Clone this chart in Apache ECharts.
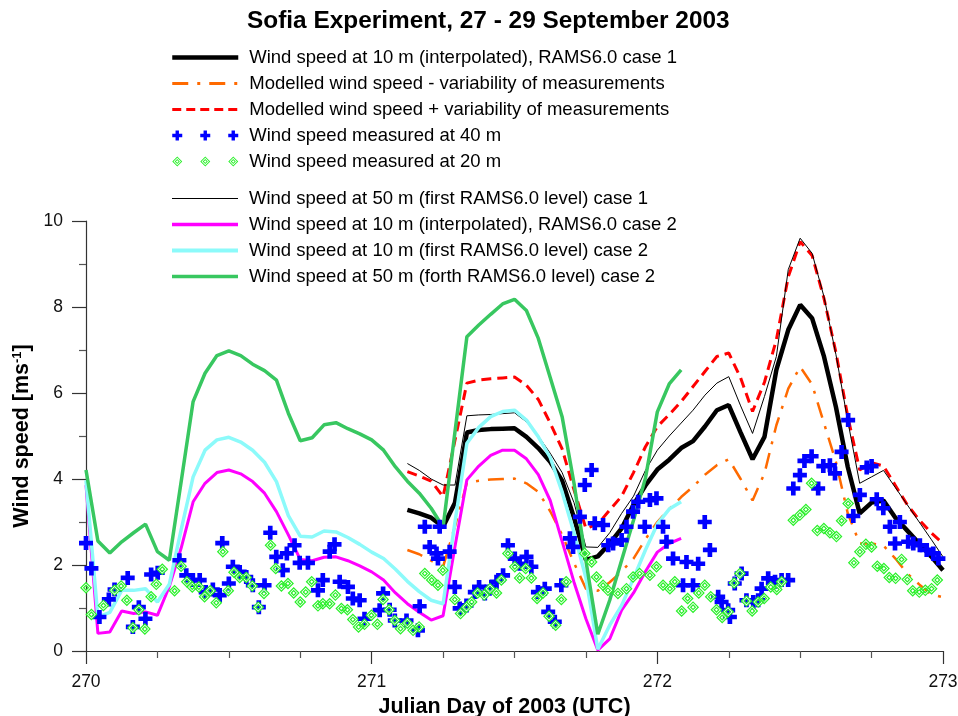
<!DOCTYPE html>
<html>
<head>
<meta charset="utf-8">
<title>Sofia Experiment, 27 - 29 September 2003</title>
<script src="https://cdn.jsdelivr.net/npm/echarts@6/dist/echarts.min.js"></script>
<style>
  html, body { margin: 0; padding: 0; background: #fff; }
  #chart { width: 958px; height: 716px; }
</style>
</head>
<body>
<div id="chart"></div>
<script>
// hourly model output, case 2 starts at day 270.0, case 1 at 271.125 (03 UTC)
const case2Start = 270
const case1Start = 271.125

const case2Wind50 = [4.21, 2.56, 2.28, 2.54, 2.75, 2.95, 2.31, 2.11, 3.95, 5.80, 6.46, 6.87, 6.98, 6.87, 6.67, 6.52, 6.30,
  5.53, 4.89, 4.96, 5.26, 5.31, 5.17, 5.05, 4.91, 4.67, 4.28, 3.95, 3.67, 3.32, 2.88, 5.10, 7.31, 7.58, 7.83, 8.07,
  8.18, 7.92, 7.27, 6.36, 5.45, 3.90, 2.10, 0.39, 1.18, 2.11, 3.04, 4.02, 5.56, 6.21, 6.54]
const case2Wind10First = [3.97, 0.79, 0.90, 1.41, 1.41, 1.45, 1.14, 1.55, 2.83, 4.05, 4.67, 4.91, 4.97, 4.86, 4.67, 4.39,
  3.94, 3.15, 2.67, 2.65, 2.79, 2.77, 2.64, 2.48, 2.30, 2.15, 1.90, 1.62, 1.38, 1.18, 1.10, 3.00, 4.83, 5.20, 5.45,
  5.57, 5.60, 5.37, 4.98, 4.50, 3.70, 2.75, 1.70, 0.04, 0.60, 1.06, 1.69, 2.35, 2.95, 3.30, 3.47]
const case2Wind10 = [3.86, 0.41, 0.44, 0.93, 0.87, 0.91, 0.83, 1.50, 2.40, 3.47, 3.90, 4.15, 4.21, 4.12, 3.94, 3.67, 3.24,
  2.70, 2.13, 2.10, 2.18, 2.19, 2.10, 1.98, 1.84, 1.65, 1.35, 1.10, 0.90, 0.72, 0.82, 2.43, 3.98, 4.30, 4.55, 4.67,
  4.67, 4.47, 4.10, 3.50, 2.55, 1.60, 0.75, 0.02, 0.28, 0.95, 1.35, 1.85, 2.30, 2.50, 2.62]

const case1Wind10 = [3.28, 3.20, 3.10, 2.89, 3.45, 5.08, 5.14, 5.16, 5.17, 5.18, 4.98, 4.72, 4.40, 3.96, 3.10, 2.12,
  2.20, 2.50, 2.85, 3.40, 3.85, 4.22, 4.45, 4.72, 4.88, 5.22, 5.60, 5.72, 5.08, 4.46, 4.98, 6.54, 7.47, 8.05, 7.74,
  6.85, 5.68, 4.28, 3.20, 3.45, 3.50, 3.10, 2.80, 2.50, 2.20, 1.88]
const case1Wind50 = [4.36, 4.20, 4.00, 3.86, 3.86, 5.47, 5.49, 5.50, 5.52, 5.54, 5.33, 5.00, 4.60, 4.15, 3.45, 2.42,
  2.41, 2.75, 3.20, 3.60, 4.20, 4.67, 5.00, 5.30, 5.60, 5.95, 6.23, 6.38, 5.70, 5.06, 5.92, 6.85, 8.87, 9.60, 9.25,
  8.24, 6.90, 5.35, 3.90, 4.05, 4.20, 3.80, 3.40, 3.00, 2.60, 2.19]
const case1Plus = [4.17, 4.07, 3.95, 3.59, 4.90, 6.23, 6.30, 6.33, 6.35, 6.37, 6.18, 5.85, 5.30, 4.70, 3.75, 2.85,
  2.95, 3.28, 3.60, 4.15, 4.75, 5.22, 5.50, 5.80, 6.15, 6.50, 6.85, 6.93, 6.35, 5.57, 6.25, 7.24, 8.70, 9.52, 9.20,
  8.20, 6.95, 5.45, 4.21, 4.38, 4.30, 3.85, 3.40, 3.05, 2.75, 2.50]
const case1Minus = [2.35, 2.25, 2.10, 1.96, 2.90, 3.91, 3.96, 3.99, 4.00, 4.01, 3.90, 3.70, 3.25, 2.70, 2.05, 1.45,
  1.40, 1.60, 1.85, 2.15, 2.60, 3.00, 3.30, 3.58, 3.82, 4.10, 4.32, 4.46, 4.00, 3.50, 4.13, 5.25, 6.10, 6.61, 6.20,
  5.30, 4.40, 3.20, 2.50, 2.50, 2.45, 2.15, 1.80, 1.55, 1.32, 1.25]

// measurements [julian day, m/s]
const measured40 = [[270.000, 2.51], [270.019, 1.92], [270.047, 0.79], [270.080, 1.20], [270.100, 1.43], [270.146, 1.70],
  [270.164, 0.56], [270.185, 1.02], [270.208, 0.75], [270.228, 1.78], [270.251, 1.82], [270.327, 2.11], [270.351, 1.76],
  [270.374, 1.65], [270.398, 1.65], [270.419, 1.37], [270.444, 1.43], [270.468, 1.30], [270.477, 2.51], [270.500, 1.57],
  [270.514, 1.96], [270.538, 1.84], [270.561, 1.72], [270.584, 1.53], [270.605, 1.02], [270.625, 1.53], [270.645, 2.75],
  [270.666, 2.19], [270.689, 1.88], [270.703, 2.27], [270.730, 2.46], [270.748, 2.05], [270.777, 2.05], [270.812, 1.41],
  [270.829, 1.65], [270.853, 2.31], [270.870, 2.48], [270.888, 1.61], [270.917, 1.49], [270.934, 1.22], [270.958, 1.18],
  [270.975, 0.75], [271.028, 0.95], [271.040, 1.34], [271.063, 0.96], [271.081, 0.71], [271.122, 0.71], [271.162, 0.48],
  [271.168, 1.04], [271.186, 2.89], [271.203, 2.42], [271.227, 2.27], [271.232, 2.15], [271.238, 2.89], [271.273, 2.31],
  [271.291, 1.49], [271.308, 0.99], [271.332, 1.06], [271.361, 1.37], [271.376, 1.49], [271.396, 1.34], [271.419, 1.49],
  [271.437, 1.61], [271.460, 1.76], [271.477, 2.46], [271.501, 2.15], [271.518, 2.03], [271.542, 2.19], [271.559, 1.96],
  [271.582, 1.37], [271.606, 1.45], [271.618, 0.91], [271.641, 0.68], [271.664, 1.53], [271.694, 2.62], [271.705, 2.42],
  [271.729, 3.12], [271.746, 3.86], [271.770, 4.21], [271.781, 2.97], [271.810, 2.93], [271.828, 2.46], [271.845, 2.50],
  [271.875, 2.58], [271.892, 2.89], [271.915, 3.24], [271.933, 3.47], [271.956, 2.89], [271.974, 3.51], [271.997, 3.55],
  [272.020, 2.89], [272.032, 2.54], [272.055, 2.15], [272.090, 1.53], [272.102, 2.07], [272.125, 1.53], [272.143, 2.03],
  [272.166, 3.00], [272.184, 2.35], [272.213, 1.26], [272.225, 1.14], [272.248, 0.95], [272.254, 0.79], [272.271, 1.57],
  [272.295, 1.80], [272.312, 1.18], [272.336, 1.14], [272.353, 1.18], [272.365, 1.45], [272.388, 1.69], [272.412, 1.61],
  [272.435, 1.65], [272.458, 1.65], [272.476, 3.78], [272.499, 4.09], [272.515, 4.42], [272.540, 4.53], [272.563, 3.78],
  [272.581, 4.30], [272.604, 4.32], [272.622, 4.13], [272.645, 4.63], [272.668, 5.37], [272.686, 3.14], [272.709, 3.63],
  [272.733, 4.27], [272.750, 4.30], [272.768, 3.53], [272.791, 3.32], [272.814, 2.89], [272.832, 2.50], [272.849, 3.00],
  [272.878, 2.54], [272.896, 2.50], [272.919, 2.46], [272.943, 2.35], [272.966, 2.27], [272.984, 2.15], [273.001, 2.00]]

const measured20 = [[270.000, 1.47], [270.019, 0.85], [270.061, 1.06], [270.100, 1.41], [270.123, 1.51], [270.143, 1.18],
  [270.164, 0.54], [270.185, 0.96], [270.206, 0.51], [270.228, 1.26], [270.246, 1.55], [270.267, 1.90], [270.310, 1.40],
  [270.333, 1.97], [270.353, 1.61], [270.372, 1.49], [270.395, 1.49], [270.415, 1.26], [270.435, 1.40], [270.456, 1.12],
  [270.479, 2.31], [270.498, 1.40], [270.518, 1.83], [270.538, 1.71], [270.561, 1.71], [270.582, 1.51], [270.603, 1.02],
  [270.623, 1.34], [270.646, 2.46], [270.664, 1.92], [270.684, 1.51], [270.707, 1.57], [270.727, 1.35], [270.750, 1.14],
  [270.769, 1.37], [270.790, 1.61], [270.812, 1.05], [270.829, 1.10], [270.853, 1.10], [270.873, 1.30], [270.894, 0.99],
  [270.915, 0.96], [270.934, 0.73], [270.954, 0.56], [270.975, 0.62], [270.999, 0.83], [271.020, 0.62], [271.040, 1.20],
  [271.061, 0.96], [271.081, 0.71], [271.101, 0.52], [271.125, 0.65], [271.145, 0.48], [271.166, 0.56], [271.186, 1.80],
  [271.210, 1.65], [271.232, 1.53], [271.249, 1.88], [271.291, 1.20], [271.311, 0.87], [271.332, 1.02], [271.350, 1.14],
  [271.371, 1.35], [271.394, 1.30], [271.414, 1.45], [271.437, 1.35], [271.454, 1.65], [271.477, 2.27], [271.501, 1.96],
  [271.518, 1.70], [271.539, 1.92], [271.559, 1.70], [271.579, 1.22], [271.600, 1.35], [271.621, 0.81], [271.644, 0.60],
  [271.664, 1.20], [271.681, 1.61], [271.746, 2.27], [271.770, 2.07], [271.787, 1.72], [271.810, 1.53], [271.827, 1.41],
  [271.862, 1.34], [271.892, 1.45], [271.915, 1.72], [271.938, 1.80], [271.974, 1.76], [271.997, 1.96], [272.020, 1.53],
  [272.044, 1.45], [272.061, 1.61], [272.085, 0.93], [272.106, 1.22], [272.125, 1.02], [272.145, 1.35], [272.166, 1.53],
  [272.187, 1.26], [272.207, 0.96], [272.227, 0.78], [272.248, 0.91], [272.269, 1.58], [272.289, 1.80], [272.312, 1.16],
  [272.332, 0.93], [272.353, 1.14], [272.374, 1.22], [272.397, 1.49], [272.418, 1.43], [272.435, 1.61], [272.476, 3.04],
  [272.499, 3.16], [272.520, 3.29], [272.540, 3.90], [272.560, 2.80], [272.583, 2.85], [272.604, 2.75], [272.627, 2.66],
  [272.645, 3.03], [272.668, 3.43], [272.688, 2.05], [272.709, 2.31], [272.730, 2.48], [272.750, 2.42], [272.770, 1.97],
  [272.793, 1.92], [272.812, 1.71], [272.834, 1.69], [272.855, 2.13], [272.875, 1.66], [272.894, 1.40], [272.917, 1.37],
  [272.938, 1.41], [272.960, 1.45], [272.980, 1.65], [273.001, 1.22]]

const xRange = [270, 273]
const yRange = [0, 10]

const names = {
  c1w10: 'Wind speed at 10 m (interpolated), RAMS6.0 case 1',
  minus: 'Modelled wind speed - variability of measurements',
  plus: 'Modelled wind speed + variability of measurements',
  m40: 'Wind speed measured at 40 m',
  m20: 'Wind speed measured at 20 m',
  c1w50: 'Wind speed at 50 m (first RAMS6.0 level) case 1',
  c2w10: 'Wind speed at 10 m (interpolated), RAMS6.0 case 2',
  c2w10f: 'Wind speed at 10 m (first RAMS6.0 level) case 2',
  c2w50: 'Wind speed at 50 m (forth RAMS6.0 level) case 2'
}

const FONT = '"Liberation Sans", Arial, sans-serif'
const dashPlus = [10, 6]
const dashMinus = [16, 9, 3, 9]

const crossSymbol = 'path://M5,0H10V5H15V10H10V15H5V10H0V5H5Z'
const ringSymbol = 'path://M6,0L12,6L6,12L0,6ZM6,1.7L1.7,6L6,10.3L10.3,6ZM6,2.8L9.2,6L6,9.2L2.8,6ZM6,4.5L4.5,6L6,7.5L7.5,6Z'
const ringFill = 'path://M6,1L11,6L6,11L1,6ZM6,3L3,6L6,9L9,6Z'

// legend icons: three markers side by side
function crossAt(cx) {
  return `M${cx - 1.7},0H${cx + 1.7}V3.3H${cx + 5}V6.7H${cx + 1.7}V10H${cx - 1.7}V6.7H${cx - 5}V3.3H${cx - 1.7}Z`
}
function diamondAt(cx) {
  return `M${cx},0L${cx + 5},5L${cx},10L${cx - 5},5Z` +
    `M${cx},1.3L${cx - 3.7},5L${cx},8.7L${cx + 3.7},5Z` +
    `M${cx},2.4L${cx + 2.6},5L${cx},7.6L${cx - 2.6},5Z` +
    `M${cx},3.7L${cx - 1.3},5L${cx},6.3L${cx + 1.3},5Z`
}
const crossIcon = 'path://' + [5, 33, 61].map(crossAt).join('')
const diamondIcon = 'path://' + [5, 33, 61].map(diamondAt).join('')

function hourly(start, values) {
  return values.map((v, i) => [start + i / 24, v])
}

function line(name, data, color, width, type) {
  return {
    name, type: 'line', data,
    symbol: 'none',
    lineStyle: { color, width, type: type || 'solid' },
    itemStyle: { color },
    z: 2
  }
}

// legend entry for a line: hide the marker echarts puts in the middle of the line icon
function lineEntry(name, width, type) {
  return { name, lineStyle: { width, type: type || 'solid' }, itemStyle: { opacity: 0 } }
}

const legendText = { fontSize: 18.5, color: '#000', fontFamily: FONT, padding: [0, 0, 0, 6] }
const legendBase = {
  orient: 'vertical',
  left: 170,
  padding: 0,
  itemWidth: 66,
  itemHeight: 14,
  itemGap: 7,
  selectedMode: false,
  textStyle: legendText
}

const chart = echarts.init(document.getElementById('chart'), null, { renderer: 'canvas' })

chart.setOption({
  animation: false,
  backgroundColor: '#fff',
  title: {
    text: 'Sofia Experiment, 27 - 29 September 2003',
    left: 242,
    top: 4,
    textStyle: { fontSize: 24.4, fontWeight: 'bold', color: '#000', fontFamily: FONT }
  },
  legend: [
    {
      ...legendBase,
      top: 48,
      data: [
        lineEntry(names.c1w10, 4.5),
        lineEntry(names.minus, 3, dashMinus),
        lineEntry(names.plus, 3, [9, 5]),
        { name: names.m40, icon: crossIcon, itemStyle: { opacity: 1 } },
        { name: names.m20, icon: diamondIcon, itemStyle: { opacity: 1 } }
      ]
    },
    {
      ...legendBase,
      top: 189,
      data: [
        lineEntry(names.c1w50, 1),
        lineEntry(names.c2w10, 3.5),
        lineEntry(names.c2w10f, 4),
        lineEntry(names.c2w50, 3.5)
      ]
    }
  ],
  grid: { left: 86, right: 15, top: 221, bottom: 65, outerBoundsMode: 'none' },
  xAxis: {
    type: 'value',
    min: xRange[0],
    max: xRange[1],
    interval: 1,
    name: 'Julian Day of 2003 (UTC)',
    nameLocation: 'middle',
    nameGap: 42,
    nameTextStyle: { fontSize: 21.5, fontWeight: 'bold', color: '#000', fontFamily: FONT, padding: [0, 20, 0, 0] },
    axisLine: { lineStyle: { color: '#333', width: 1.2 } },
    axisTick: { length: 13, lineStyle: { color: '#333', width: 1.2 } },
    minorTick: { show: true, splitNumber: 4, length: 7, lineStyle: { color: '#555', width: 1.2 } },
    axisLabel: { fontSize: 17.5, color: '#111', fontFamily: FONT, margin: 22 },
    splitLine: { show: false }
  },
  yAxis: {
    type: 'value',
    min: yRange[0],
    max: yRange[1],
    interval: 2,
    name: 'Wind speed [ms{sup|-1}]',
    nameLocation: 'middle',
    nameGap: 52,
    nameTextStyle: {
      fontSize: 21.5, fontWeight: 'bold', color: '#000', fontFamily: FONT,
      rich: { sup: { fontSize: 13, fontWeight: 'bold', color: '#000', fontFamily: FONT, verticalAlign: 'top' } }
    },
    axisLine: { show: true, lineStyle: { color: '#333', width: 1.2 } },
    axisTick: { show: true, length: 14, lineStyle: { color: '#333', width: 1.2 } },
    minorTick: { show: true, splitNumber: 2, length: 7, lineStyle: { color: '#555', width: 1.2 } },
    axisLabel: { fontSize: 17.5, color: '#111', fontFamily: FONT, margin: 23 },
    splitLine: { show: false }
  },
  series: [
    line(names.c1w10, hourly(case1Start, case1Wind10), '#000', 4.5),
    line(names.minus, hourly(case1Start, case1Minus), '#ff6a00', 2.5, dashMinus),
    line(names.plus, hourly(case1Start, case1Plus), '#ff0000', 3, dashPlus),
    line(names.c1w50, hourly(case1Start, case1Wind50), '#000', 1),
    line(names.c2w10, hourly(case2Start, case2Wind10), '#ff00ff', 3),
    line(names.c2w10f, hourly(case2Start, case2Wind10First), '#8cfafa', 3.5),
    line(names.c2w50, hourly(case2Start, case2Wind50), '#38c760', 3.5),
    {
      name: names.m40, type: 'scatter', data: measured40,
      symbol: crossSymbol, symbolSize: 14,
      itemStyle: { color: '#0000ff', opacity: 1 }, z: 3
    },
    {
      // white gap between the two diamond outlines
      name: 'm20-fill', type: 'scatter', data: measured20,
      symbol: ringFill, symbolSize: 10, silent: true,
      itemStyle: { color: '#fff', opacity: 1 }, z: 3
    },
    {
      name: names.m20, type: 'scatter', data: measured20,
      symbol: ringSymbol, symbolSize: 12,
      itemStyle: { color: '#2af02a', opacity: 1 }, z: 3
    }
  ]
})
</script>
</body>
</html>
